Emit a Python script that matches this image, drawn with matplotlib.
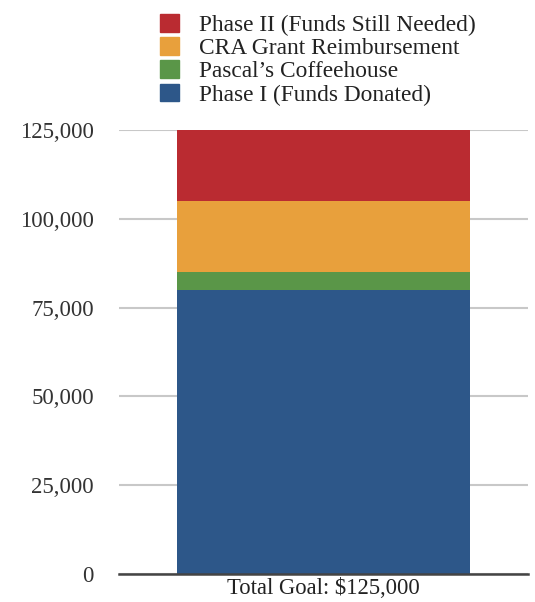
import matplotlib.pyplot as plt
from matplotlib.patches import Patch

# данные
category = ['Total Goal: $125,000']
series = ['Phase I (Funds Donated)', "Pascal\u2019s Coffeehouse",
          'CRA Grant Reimbursement', 'Phase II (Funds Still Needed)']
values = [80000, 5000, 20000, 20000]
colors = ['#2D5789', '#5A9648', '#E8A03C', '#BA2B31']
yticks = [0, 25000, 50000, 75000, 100000, 125000]

plt.rcParams['font.family'] = ['Liberation Serif', 'DejaVu Serif']

fig = plt.figure(figsize=(5.35, 6.02), dpi=100)
ax = fig.add_axes([0.222, 0.0465, 0.765, 0.7375])

bottom = 0
for name, v, c in zip(series, values, colors):
    ax.bar(category, [v], bottom=bottom, width=0.716, color=c, label=name, zorder=3)
    bottom += v

ax.set_xlim(-0.5, 0.5)
ax.set_ylim(0, 125000)
ax.set_yticks(yticks)
ax.set_yticklabels(['{:,}'.format(t) for t in yticks])
ax.yaxis.grid(True, color='#C8C8C8', linewidth=1.5, zorder=0)
ax.tick_params(axis='y', length=0, pad=18, labelsize=16.5, labelcolor='#333333')
ax.tick_params(axis='x', length=0, pad=3, labelsize=16.3, labelcolor='#222222')
for s in ['top', 'right', 'left']:
    ax.spines[s].set_visible(False)
ax.spines['bottom'].set_color('#444444')
ax.spines['bottom'].set_linewidth(1.8)
ax.spines['bottom'].set_zorder(4)

handles = [Patch(color=c) for c in colors][::-1]
fig.legend(handles, series[::-1], loc='upper left', bbox_to_anchor=(0.273, 1.0),
           frameon=False, fontsize=16.8, handlelength=0.8, handleheight=0.8,
           handletextpad=0.85, labelspacing=0.05, borderaxespad=0.2,
           labelcolor='#222222')

plt.savefig('out.png', dpi=100)
